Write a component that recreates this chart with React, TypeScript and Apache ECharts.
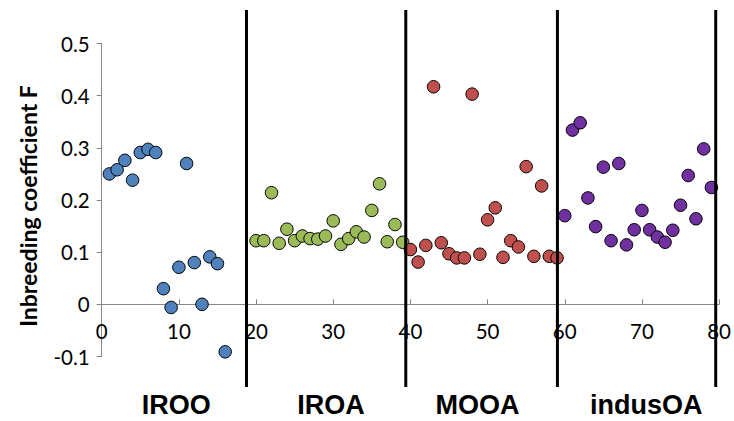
import React, { useEffect, useRef } from "react";
import * as echarts from "echarts";

const groupNames = ["IROO", "IROA", "MOOA", "indusOA"];
const groupColors = ["#4F81BD", "#9BBB59", "#C0504D", "#7030A0"];
const groupStartX = [1, 20, 40, 60];

const irooF = [0.25, 0.258, 0.276, 0.238, 0.291, 0.297, 0.291, 0.03, -0.006, 0.071, 0.27, 0.08, 0.0, 0.091, 0.078, -0.091];
const iroaF = [0.122, 0.122, 0.214, 0.117, 0.144, 0.122, 0.131, 0.126, 0.125, 0.131, 0.16, 0.115, 0.126, 0.139, 0.129, 0.18, 0.231, 0.12, 0.153, 0.119];
const mooaF = [0.105, 0.081, 0.113, 0.417, 0.118, 0.097, 0.089, 0.089, 0.403, 0.096, 0.162, 0.185, 0.09, 0.122, 0.11, 0.264, 0.092, 0.227, 0.092, 0.089];
const indusF = [0.17, 0.334, 0.348, 0.204, 0.149, 0.263, 0.122, 0.27, 0.114, 0.143, 0.18, 0.143, 0.129, 0.119, 0.142, 0.19, 0.247, 0.164, 0.298, 0.224];
const groupValues = [irooF, iroaF, mooaF, indusF];

// separators between groups (x data units) and group label centres
const separatorX = [18.76, 39.4, 59.05, 79.56];
const labelCenterX = [9.65, 29.7, 48.7, 70.55];

const xTicks = { min: 0, max: 80, interval: 10 };
const yTicks = { min: -0.1, max: 0.5, interval: 0.1 };
const yTitle = "Inbreeding coefficient F";

const tickFont = "Lato, 'Open Sans', sans-serif";

export default function App() {
  const ref = useRef<HTMLDivElement>(null);
  useEffect(() => {
    if (!ref.current) return;
    const chart = echarts.init(ref.current, null, { renderer: "svg" });
    const series = groupValues.map((vals, gi) => ({
      type: "scatter",
      name: groupNames[gi],
      symbol: "circle",
      symbolSize: 12.5,
      itemStyle: { color: groupColors[gi], borderColor: "#000", borderWidth: 1, opacity: 1 },
      data: vals.map((v, i) => [groupStartX[gi] + i, v]),
      z: 3,
    }));
    chart.setOption({
      animation: false,
      backgroundColor: "#fff",
      grid: { left: 101.7, right: 9.7, top: 43.5, bottom: 64.5, containLabel: false },
      xAxis: {
        type: "value",
        min: xTicks.min,
        max: xTicks.max,
        interval: xTicks.interval,
        splitLine: { show: false },
        axisLine: { show: true, onZero: true, lineStyle: { color: "#868686", width: 1 } },
        axisTick: { show: true, inside: true, length: 5, lineStyle: { color: "#868686" } },
        axisLabel: { fontSize: 20.5, color: "#000", margin: -36, fontFamily: tickFont },
      },
      yAxis: {
        type: "value",
        min: yTicks.min,
        max: yTicks.max,
        interval: yTicks.interval,
        splitLine: { show: false },
        axisLine: { show: true, onZero: false, lineStyle: { color: "#868686", width: 1 } },
        axisTick: { show: true, inside: false, length: 5, lineStyle: { color: "#868686" } },
        axisLabel: {
          fontSize: 20.5,
          color: "#000",
          margin: 12,
          fontFamily: tickFont,
          formatter: (v: number) => String(Math.round(v * 10) / 10),
        },
      },
      series,
    });
    const top = 10;
    const bottom = 387;
    const graphic: any[] = [];
    separatorX.forEach((sx) => {
      const px = chart.convertToPixel({ xAxisIndex: 0 }, sx) as number;
      graphic.push({
        type: "line",
        shape: { x1: px, y1: top, x2: px, y2: bottom },
        style: { stroke: "#000", lineWidth: 3 },
        z: 10,
      });
    });
    labelCenterX.forEach((lx, i) => {
      const px = chart.convertToPixel({ xAxisIndex: 0 }, lx) as number;
      graphic.push({
        type: "text",
        x: px,
        y: 405,
        style: {
          text: groupNames[i],
          font: "bold 27px 'Liberation Sans', Arial, sans-serif",
          fill: "#000",
          align: "center",
          verticalAlign: "middle",
        },
      });
    });
    graphic.push({
      type: "text",
      x: 28,
      y: 206,
      rotation: Math.PI / 2,
      style: {
        text: yTitle,
        font: "bold 23px Lato, 'Open Sans', sans-serif",
        fill: "#000",
        align: "center",
        verticalAlign: "middle",
      },
    });
    chart.setOption({ graphic });
    return () => chart.dispose();
  }, []);
  return (
    <div
      ref={ref}
      style={{ position: "absolute", left: 0, top: 0, width: 734, height: 421, background: "#fff" }}
    />
  );
}
